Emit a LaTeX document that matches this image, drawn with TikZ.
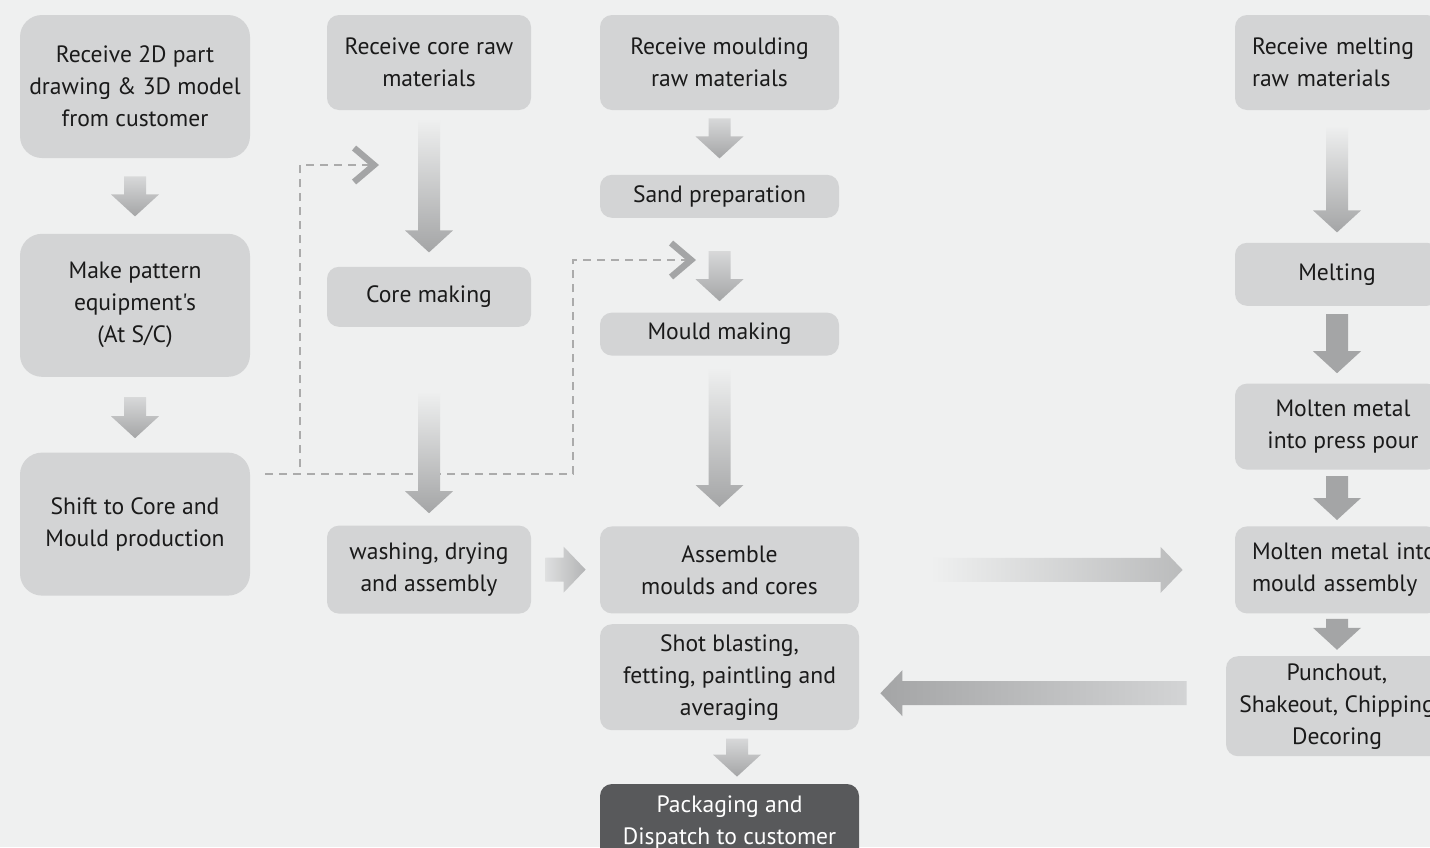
\documentclass[tikz,border=0pt]{standalone}
\usepackage{fontspec}
\setmainfont{PT Sans}[Ligatures=TeXOff]
\usetikzlibrary{positioning,calc,arrows.meta}
\definecolor{bgc}{HTML}{EFF0F0}
\definecolor{boxc}{HTML}{D3D4D5}
\definecolor{darkc}{HTML}{58595B}
\definecolor{arrc}{HTML}{A4A5A6}
\definecolor{dashc}{HTML}{ABABAB}
\definecolor{txtc}{HTML}{1A1A1A}

\newcommand\vblk[3][fadeblk]{%
  \path[#1] let \p1=#2, \p2=#3 in
    (\x1-5.5pt,\y1) -- (\x1+5.5pt,\y1) -- (\x1+5.5pt,\y2+11pt)
    -- (\x1+12pt,\y2+11pt) -- (\x1,\y2) -- (\x1-12pt,\y2+11pt)
    -- (\x1-5.5pt,\y2+11pt) -- cycle;}
\newcommand\hblk[3][rfade]{%
  \path[#1] let \p1=#2, \p2=#3, \n1={\x2-11pt*sign(\x2-\x1)} in
    (\x1,\y1+6pt) -- ({\n1*1pt},\y1+6pt) -- ({\n1*1pt},\y1+11.5pt)
    -- (\x2,\y1) -- ({\n1*1pt},\y1-11.5pt) -- ({\n1*1pt},\y1-6pt)
    -- (\x1,\y1-6pt) -- cycle;}

\begin{document}
\begin{tikzpicture}[x=0.5pt, y=-0.5pt,
    proc/.style={rectangle, draw=none, fill=boxc, rounded corners=6pt,
        text=txtc, align=center, inner sep=0pt, font=\fontsize{11.8}{16}\selectfont},
    bigproc/.style={proc, minimum width=115pt, minimum height=71.5pt, rounded corners=11pt},
    coreproc/.style={proc, minimum width=102pt},
    mouldproc/.style={proc, minimum width=119.5pt},
    asmproc/.style={proc, minimum width=129.5pt},
    meltproc/.style={proc, minimum width=102pt},
    leftproc/.style={meltproc, text width=85pt, align=left},
    fadeblk/.style={top color=bgc, bottom color=arrc},
    softblk/.style={top color=boxc!90!white, bottom color=arrc},
    solidblk/.style={fill=arrc},
    rfade/.style={left color=bgc, right color=arrc!70!bgc},
    lfade/.style={left color=arrc, right color=boxc},
    rsoft/.style={left color=boxc!60!bgc, right color=arrc!80!bgc},
    dashln/.style={draw=dashc, line width=1pt, dash pattern=on 4pt off 3pt,
        -{Straight Barb[length=10pt, width=17pt, line width=3.2pt, color=arrc]}}
]
\fill[bgc] (0,0) rectangle (1430,847);
\useasboundingbox (0,0) rectangle (1430,847);

\node[bigproc] (Recv2D) at (135,86.5) {Receive 2D part\\drawing \& 3D model\\from customer};
\node[bigproc, below=37.5pt of Recv2D] (Pattern) {Make pattern\\equipment's\\(At S/C)};
\node[bigproc, below=37.5pt of Pattern] (Shift) {Shift to Core and\\Mould production};

\node[coreproc, minimum height=47.5pt] (CoreIn) at (429,62.5) {Receive core raw\\materials};
\node[coreproc, minimum height=30pt, below=78pt of CoreIn] (CoreMk) {Core making};
\node[coreproc, minimum height=44pt, below=99pt of CoreMk] (Wash) {washing, drying\\and assembly};

\node[mouldproc, minimum height=47.5pt] (MouldIn) at (719.5,62.5) {Receive moulding\\raw materials};
\node[mouldproc, minimum height=21.5pt, below=32pt of MouldIn] (Sand) {Sand preparation};
\node[mouldproc, minimum height=21.5pt, below=47pt of Sand] (MouldMk) {Mould making};
\node[asmproc, minimum height=43.5pt, below=85pt of MouldMk, xshift=5pt] (Assem) {Assemble\\moulds and cores};
\node[asmproc, minimum height=53pt, below=5pt of Assem] (Shot) {Shot blasting,\\fetting, paintling and\\averaging};
\node[asmproc, minimum height=38pt, below=26.5pt of Shot, fill=darkc, text=white] (Pack) {Packaging and\\Dispatch to customer};

\node[leftproc, minimum height=47.5pt] (MeltIn) at (1337,62.5) {Receive melting\\raw materials};
\node[meltproc, minimum height=31.5pt, below=66pt of MeltIn] (Melt) {Melting};
\node[meltproc, minimum height=43pt, below=38.5pt of Melt] (Press) {\hspace*{6pt}Molten metal\\\hspace*{6pt}into press pour};
\node[leftproc, minimum height=43.5pt, below=28pt of Press] (PourIn) {\mbox{Molten metal into}\\mould assembly};
\node[meltproc, minimum width=111pt, minimum height=50pt, below=21pt of PourIn] (Punch) {Punchout,\\Shakeout, Chipping\\Decoring};

% dashed feeds from the production shift
\coordinate (DashSrc) at ($(Shift.east)+(15,-50)$);
\coordinate (CoreTip) at (379,165);
\coordinate (MouldTip) at (696,260);
\draw[dashln] (DashSrc) -- ++(35,0) |- (CoreTip);
\draw[dashln] (DashSrc) -- ++(308,0) |- (MouldTip);

\vblk[softblk]{($(Recv2D.south)+(0,18)$)}{($(Pattern.north)+(0,-17)$)}
\vblk[softblk]{($(Pattern.south)+(0,20)$)}{($(Shift.north)+(0,-14)$)}
\vblk{($(CoreIn.south)+(0,8)$)}{($(CoreMk.north)+(0,-14)$)}
\vblk{($(CoreMk.south)+(0,64)$)}{($(Wash.north)+(0,-12)$)}
\vblk[softblk]{($(MouldIn.south)+(0,8)$)}{($(Sand.north)+(0,-16)$)}
\vblk[softblk]{($(Sand.south)+(0,33)$)}{($(MouldMk.north)+(0,-11)$)}
\vblk{($(MouldMk.south)+(0,12)$)}{($(Assem.north)+(0,-19)$)}
\vblk[softblk]{($(Shot.south)+(7.5,8)$)}{($(Pack.north)+(0,-7)$)}
\vblk{($(MeltIn.south)+(0,15)$)}{($(Melt.north)+(0,-10)$)}
\vblk[solidblk]{($(Melt.south)+(0,8)$)}{($(Press.north)+(0,-10)$)}
\vblk[solidblk]{($(Press.south)+(0,6)$)}{($(PourIn.north)+(0,-6)$)}
\vblk[solidblk]{($(PourIn.south)+(0,5)$)}{($(Punch.north)+(0,-6)$)}

\hblk[rsoft]{($(Wash.east)+(14,0)$)}{($(Assem.west)+(-14,0)$)}
\hblk[rfade]{($(Assem.east)+(71,0)$)}{($(PourIn.west)+(-52,0)$)}
\hblk[lfade]{($(Punch.west)+(-39,-13)$)}{($(Shot.east)+(21,16)$)}
\end{tikzpicture}
\end{document}
